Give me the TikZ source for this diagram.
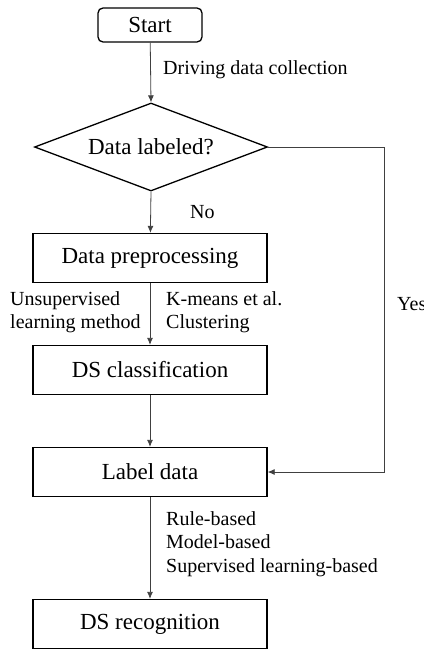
\documentclass[tikz,border=0pt]{standalone}
\usepackage{fontspec}
\setmainfont{Liberation Serif}
\usetikzlibrary{shapes.geometric,arrows.meta}
\begin{document}
\begin{tikzpicture}[x=1pt,y=-1pt,
  boxtext/.style={font=\fontsize{23}{27}\selectfont},
  procbox/.style={draw,line width=1.3pt,minimum width=234pt,minimum height=49pt,inner sep=0pt,boxtext},
  startbox/.style={draw,line width=1.3pt,rounded corners=5pt,minimum width=104pt,minimum height=34pt,inner sep=0pt,boxtext},
  decbox/.style={draw,line width=1.3pt,diamond,aspect=2.65,minimum width=233pt,minimum height=88pt,inner sep=0pt,boxtext},
  lbl/.style={font=\fontsize{20}{23.5}\selectfont,inner sep=0pt,anchor=west,align=left},
  conn/.style={line width=0.8pt,draw=black!75,-{Latex[length=7pt,width=6pt]}}
]
\useasboundingbox (0,0) rectangle (423,653);
\node[startbox] (start) at (150,25) {Start};
\node[decbox] (dec) at (151,147) {Data labeled?};
\node[procbox] (prep) at (150,258) {Data preprocessing};
\node[procbox] (cls) at (150,370) {DS classification};
\node[procbox] (lab) at (150,472) {Label data};
\node[procbox] (rec) at (150,624) {DS recognition};
\coordinate (c1) at (384,147);
\coordinate (c2) at (384,472);
\draw[conn] (start) -- (dec.north);
\draw[conn] (dec.south) -- (prep);
\draw[conn] (prep) -- (cls);
\draw[conn] (cls) -- (lab);
\draw[conn] (lab) -- (rec);
\draw[conn] (dec.east) -- (c1) -- (c2) -- (lab.east);
\node[lbl] (t1) at (163,70) {Driving data collection};
\node[lbl] (t2) at (190,212) {No};
\node[lbl,anchor=north west] (t3) at (10,291) {Unsupervised\\learning method};
\node[lbl,anchor=north west] (t4) at (166,291) {K-means et al.\\Clustering};
\node[lbl] (t5) at (397,304) {Yes};
\node[lbl,anchor=north west] (t6) at (166,511) {Rule-based\\Model-based\\Supervised learning-based};
\end{tikzpicture}
\end{document}
